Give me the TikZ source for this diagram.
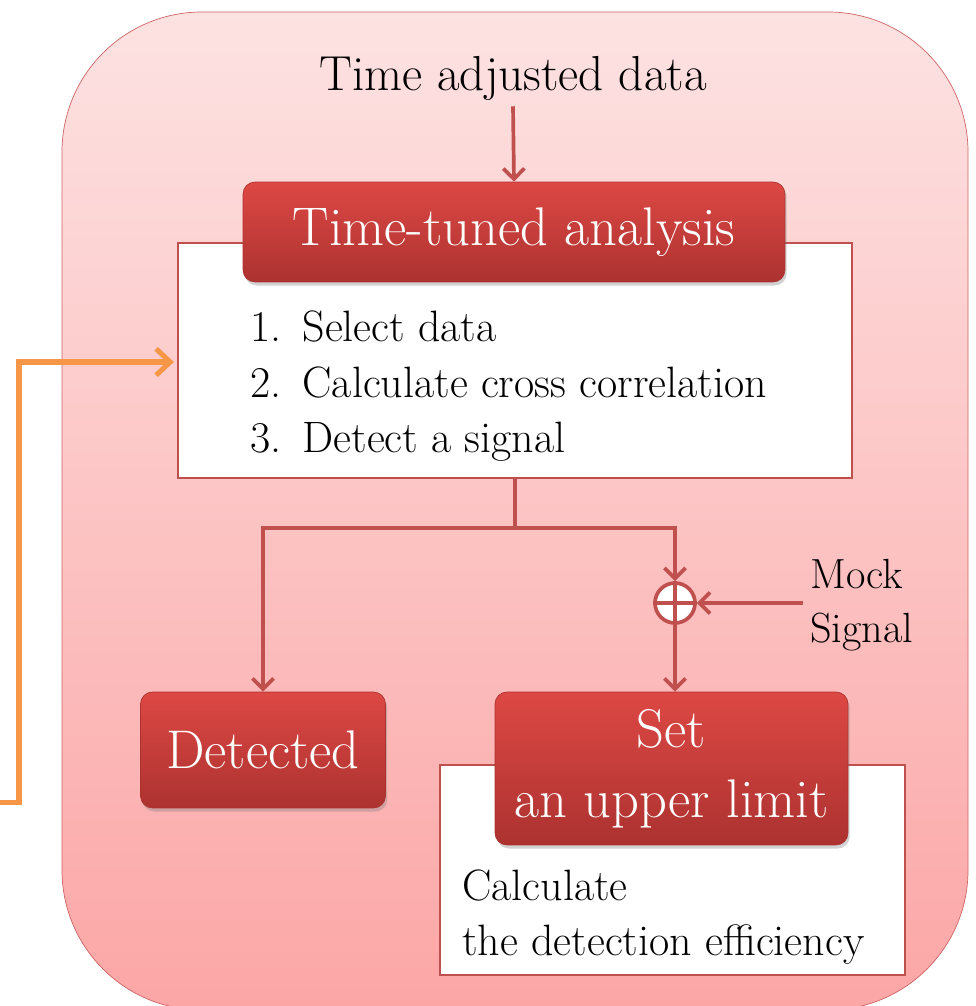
\documentclass[tikz,border=0pt]{standalone}
\usepackage{fontspec}
\usepackage{tikz}
\usetikzlibrary{arrows.meta,positioning,shadows,calc}
\definecolor{panelTop}{RGB}{253,226,226}
\definecolor{panelBot}{RGB}{252,166,166}
\definecolor{panelLine}{RGB}{206,100,100}
\definecolor{boxTop}{RGB}{221,72,68}
\definecolor{boxBot}{RGB}{172,50,48}
\definecolor{flowRed}{RGB}{192,80,77}
\definecolor{fbOrange}{RGB}{247,150,70}

\begin{document}
\begin{tikzpicture}[x=0.02cm, y=-0.02cm,
    redbox/.style={rounded corners=0.24cm, draw=boxBot, thin, top color=boxTop, bottom color=boxBot,
      text=white, align=center, inner sep=0pt, font=\fontsize{31}{40}\selectfont,
      drop shadow={opacity=0.35, shadow xshift=1pt, shadow yshift=-2pt}},
    notebox/.style={draw=flowRed, fill=white, line width=0.8pt, inner sep=0pt},
    notetext/.style={font=\fontsize{25}{31.5}\selectfont, align=left, inner sep=0pt},
    flowline/.style={draw=flowRed, line width=2.1pt},
    flow/.style={flowline, -{Straight Barb[length=6pt,width=12pt]}},
    feedback/.style={draw=fbOrange, line width=2.85pt, -{Straight Barb[length=8pt,width=15pt]}, shorten >=2pt}]
  \useasboundingbox (0,0) rectangle (975,1006);
  % Panel
  \draw[draw=panelLine, thin, top color=panelTop, bottom color=panelBot, rounded corners=2.8cm]
    (62,12) rectangle (968,1010);
  % Input and main analysis
  \node[font=\fontsize{28}{34}\selectfont] (input) at (513,78) {Time adjusted data};
  \node[notebox, minimum width=13.48cm, minimum height=4.7cm] (steps) at (515,360.5) {};
  \node[redbox, minimum width=10.84cm, minimum height=2cm] (header) at (514,232) {Time-tuned analysis};
  \node[notetext, anchor=west] (list) at (250,386) {%
    \begin{tabular}{@{}r@{\hspace{12pt}}l@{}}
      1. & Select data\\
      2. & Calculate cross correlation\\
      3. & Detect a signal
    \end{tabular}};
  \draw[flow] (input.south) -- (header.north);
  % Outcomes
  \node[redbox, minimum width=4.9cm, minimum height=2.32cm] (detected) at (263,750) {Detected};
  \node[notebox, minimum width=9.3cm, minimum height=4.2cm] (calcbox) at (672.5,870) {};
  \node[redbox, minimum width=7.06cm, minimum height=3.06cm] (limit) at (671.5,768.5) {Set\\an upper limit};
  \node[notetext, anchor=west] (calc) at (462,917) {Calculate\\the detection efficiency};
  % Mock signal injection
  \node[circle, draw=flowRed, line width=2.1pt, fill=white, minimum size=0.8cm, inner sep=0pt] (sum) at (675,603) {};
  \draw[flowline] (sum.north) -- (sum.south) (sum.west) -- (sum.east);
  \node[font=\fontsize{24}{30.7}\selectfont, align=left, anchor=west, inner sep=4pt] (mock) at (803,605) {Mock\\Signal};
  % Connectors
  \coordinate (split) at (515,528);
  \draw[flowline] (steps.south) -- (split);
  \draw[flow] (split) -| (detected.north);
  \draw[flow] (split) -| (sum.north);
  \draw[flow] (mock.west |- sum) -- (sum.east);
  \draw[flow] (sum.south) -- (sum.south |- limit.north);
  % Feedback loop
  \coordinate (fbin) at (0,802);
  \coordinate (fbup) at (19,362);
  \draw[feedback] (fbin) -| (fbup) -- (fbup -| steps.west);
\end{tikzpicture}
\end{document}
